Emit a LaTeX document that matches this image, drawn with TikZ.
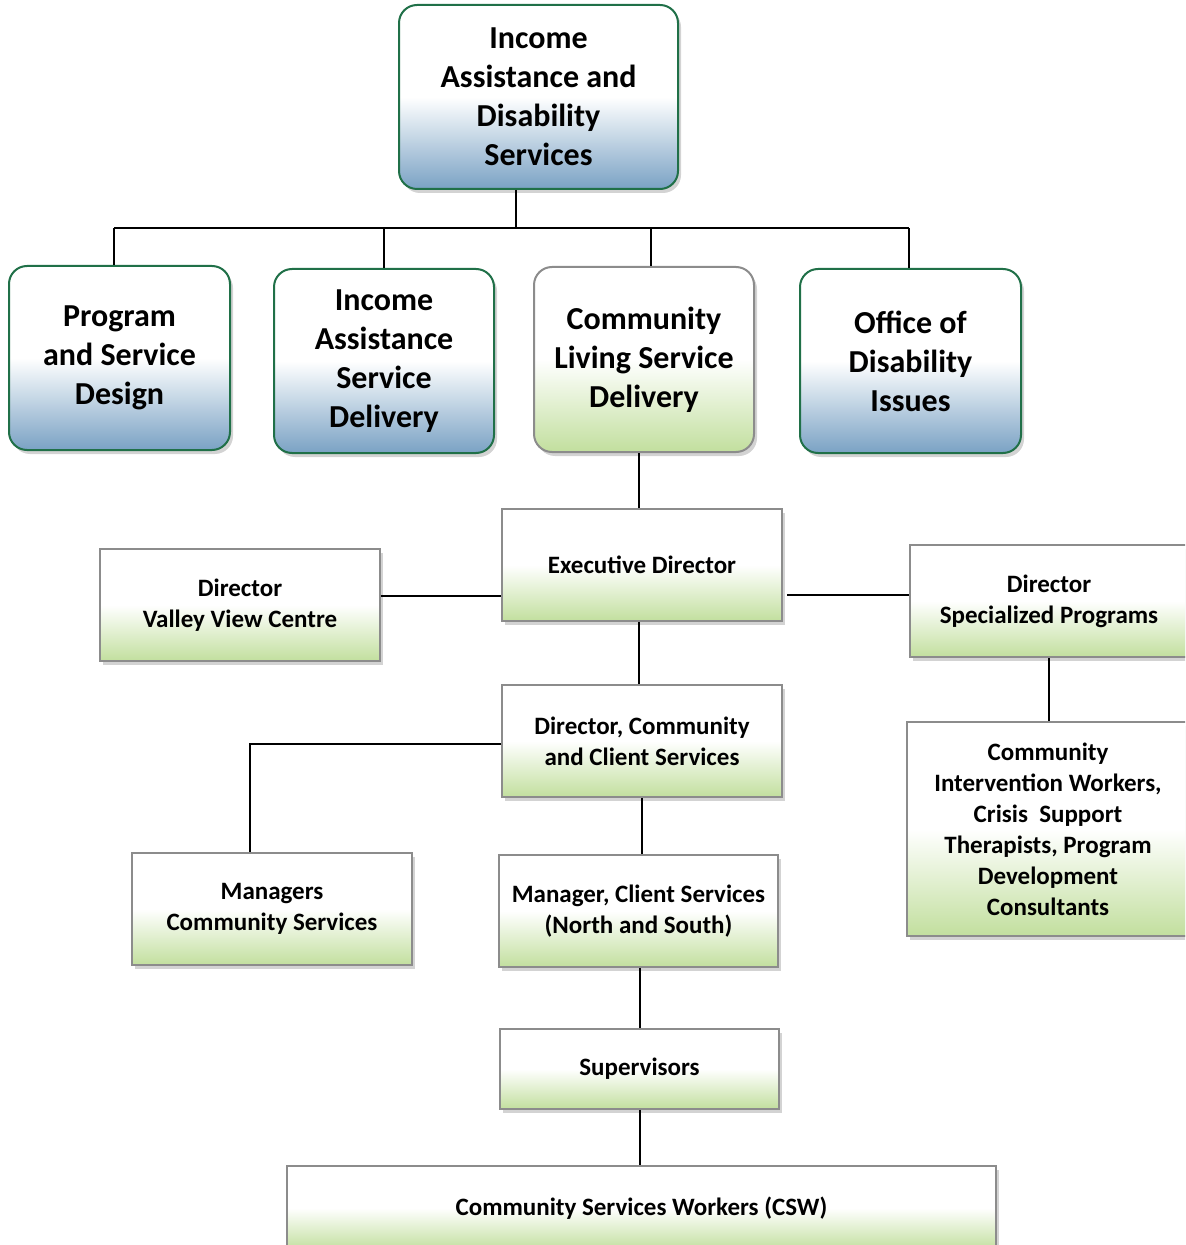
\documentclass[tikz,border=0pt]{standalone}
\usepackage{fontspec}
\setmainfont{Carlito}
\usetikzlibrary{shadows}
\definecolor{bluefondo}{RGB}{122,162,196}
\definecolor{verdefondo}{RGB}{194,223,158}
\definecolor{verdebordo}{RGB}{32,112,72}
\definecolor{grigiobordo}{RGB}{140,140,140}
\tikzset{
	ombra/.style={drop shadow={shadow xshift=1.5pt,shadow yshift=-2pt,opacity=0.35}},
	grande/.style={font=\bfseries\fontsize{16}{19.5}\selectfont},
	piccolo/.style={font=\bfseries\fontsize{12.5}{15.5}\selectfont},
	boxblu/.style={draw=verdebordo, line width=1pt, rounded corners=9pt, top color=white, bottom color=bluefondo, middle color=white, align=center, inner sep=2pt, grande, ombra},
	boxverde/.style={draw=grigiobordo, line width=1pt, rounded corners=9pt, top color=white, bottom color=verdefondo, middle color=white, align=center, inner sep=2pt, grande, ombra},
	capo/.style={draw=grigiobordo, line width=0.8pt, top color=white, bottom color=verdefondo, middle color=white, align=center, inner sep=2pt, piccolo, ombra},
	linea/.style={line width=1pt}
}
\begin{document}
\begin{tikzpicture}[x=0.5pt,y=-0.5pt]
	\clip (0,0) rectangle (1185,1245);
	% livello 1
	\node[boxblu, minimum width=139.5pt, minimum height=92pt] (top) at (538.5,97) {Income\\Assistance and\\Disability\\Services};
	% livello 2
	\node[boxblu, minimum width=110.5pt, minimum height=92pt] (prog) at (119.5,358) {Program\\and Service\\Design};
	\node[boxblu, minimum width=110pt, minimum height=92pt] (inc) at (384,361) {Income\\Assistance\\Service\\Delivery};
	\node[boxverde, minimum width=110pt, minimum height=92.5pt] (cls) at (644,359.5) {Community\\Living Service\\Delivery};
	\node[boxblu, minimum width=110.5pt, minimum height=92pt] (odi) at (910.5,361) {Office of\\Disability\\Issues};
	% direttori
	\node[capo, minimum width=140pt, minimum height=56pt] (exec) at (642,565) {Executive Director};
	\node[capo, minimum width=140pt, minimum height=56pt] (vvc) at (240,605) {Director\\Valley View Centre};
	\node[capo, minimum width=139pt, minimum height=56pt] (spec) at (1049,601) {Director\\Specialized Programs};
	\node[capo, minimum width=141pt, minimum height=107pt] (ciw) at (1048,829) {Community\\Intervention Workers,\\Crisis\ \ Support\\Therapists, Program\\Development\\Consultants};
	\node[capo, minimum width=140pt, minimum height=56pt] (dccs) at (642,741) {Director, Community\\and Client Services};
	\node[capo, minimum width=140pt, minimum height=56pt] (mgr) at (272,909) {Managers\\Community Services};
	\node[capo, minimum width=139.5pt, minimum height=56pt] (mcs) at (638.5,911) {Manager, Client Services\\(North and South)};
	\node[capo, minimum width=139.5pt, minimum height=40pt] (sup) at (639.5,1069) {Supervisors};
	\node[capo, minimum width=354.5pt, minimum height=42pt] (csw) at (641.5,1208) {Community Services Workers (CSW)};
	% collegamenti
	\coordinate (bus) at (516,228);
	\coordinate (sprog) at ([xshift=-2.75pt]prog.north);
	\coordinate (scls) at ([xshift=3.5pt]cls.north);
	\coordinate (sodi) at ([xshift=-0.75pt]odi.north);
	\draw[linea] (bus |- top.south) -- (bus);
	\draw[linea] (bus -| sprog) -- (bus -| sodi);
	\foreach \n in {sprog,inc.north,scls,sodi}
		\draw[linea] (\n) -- (\n |- bus);
	\draw[linea] ([xshift=-1.5pt]exec.north |- cls.south) -- ([xshift=-1.5pt]exec.north);
	\draw[linea] ([yshift=4.5pt]vvc.east) -- ([yshift=4.5pt]vvc.east -| exec.west);
	\draw[linea] ([yshift=3pt]spec.west) -- ([yshift=3pt,xshift=2pt]spec.west -| exec.east);
	\draw[linea] (spec.south) -- (spec.south |- ciw.north);
	\draw[linea] ([xshift=-1.5pt]exec.south) -- ([xshift=-1.5pt]exec.south |- dccs.north);
	\draw[linea] ([yshift=-1.5pt]dccs.west) -| ([xshift=-11pt]mgr.north);
	\draw[linea] (dccs.south) -- (dccs.south |- mcs.north);
	\draw[linea] (sup.north |- mcs.south) -- (sup.north);
	\draw[linea] (sup.south) -- (sup.south |- csw.north);
\end{tikzpicture}
\end{document}
